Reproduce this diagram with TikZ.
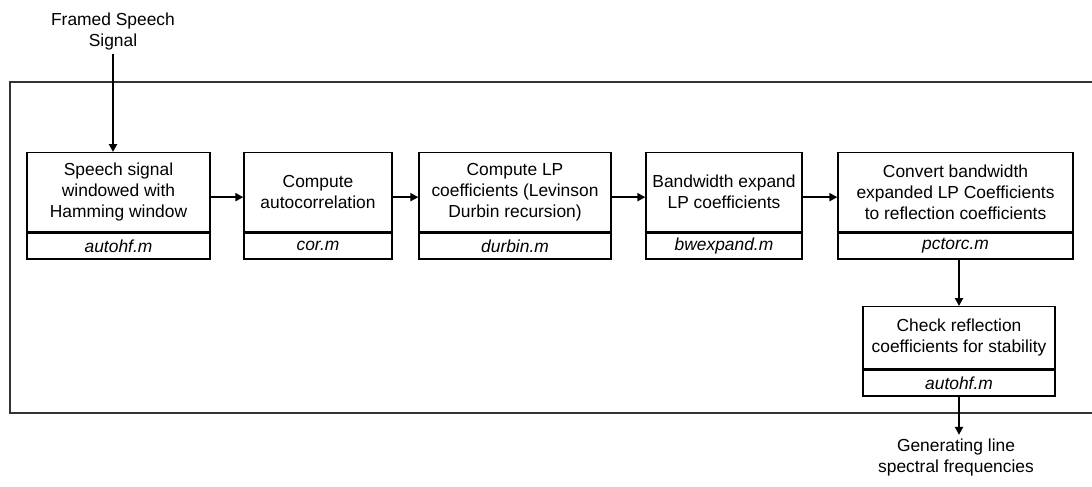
\documentclass[tikz,border=0pt]{standalone}
\usepackage{fontspec}
\setmainfont{Liberation Sans}
\usetikzlibrary{arrows.meta,positioning}

\begin{document}
\begin{tikzpicture}[x=1pt, y=-1pt,
  stage/.style={draw, line width=1.3pt, anchor=north, inner sep=0pt,
                align=center, font=\fontsize{17.4}{21}\selectfont},
  file/.style={draw, line width=1.3pt, inner sep=0pt, minimum height=26pt,
               font=\fontsize{17.4}{21}\selectfont\itshape},
  lbl/.style={align=center, font=\fontsize{17.4}{21}\selectfont},
  arr/.style={-{Triangle[length=8pt,width=8pt]}, line width=2.2pt},
  frame/.style={draw=black!80, line width=1.3pt}
]
  \useasboundingbox (0,0) rectangle (1092,487);

  % outer frame, open at the right
  \draw[frame] (1092,82) -- (10,82) -- (10,413) -- (1092,413);

  \node[lbl] (in) at (113,32) {Framed Speech\\Signal};

  \node[stage, minimum width=183pt, minimum height=79pt] (top1) at (118.5,152) {Speech signal\\windowed with\\Hamming window};
  \node[file, minimum width=183pt, below=0pt of top1] (file1) {autohf.m};

  \node[stage, minimum width=148pt, minimum height=79pt] (top2) at (318,152) {Compute\\autocorrelation};
  \node[file, minimum width=148pt, below=0pt of top2] (file2) {cor.m};

  \node[stage, minimum width=192pt, minimum height=79pt] (top3) at (515,152) {Compute LP\\coefficients (Levinson\\Durbin recursion)};
  \node[file, minimum width=192pt, below=0pt of top3] (file3) {durbin.m};

  \node[stage, minimum width=156pt, minimum height=79pt] (top4) at (724,152) {Bandwidth expand\\LP coefficients};
  \node[file, minimum width=156pt, below=0pt of top4] (file4) {bwexpand.m};

  \node[stage, minimum width=235pt, minimum height=79pt] (top5) at (955.5,152) {Convert bandwidth\\expanded LP Coefficients\\to reflection coefficients};
  \node[file, minimum width=235pt, below=0pt of top5] (file5) {pctorc.m};

  \node[stage, minimum width=192pt, minimum height=62pt] (top6) at (959,306) {Check reflection\\coefficients for stability};
  \node[file, minimum width=192pt, below=0pt of top6] (file6) {autohf.m};

  \node[lbl] (out) at (956,457) {Generating line\\spectral frequencies};

  \draw[arr] (in.south) -- (in.south |- top1.north);
  \draw[arr] ([yshift=-5pt]top1.east) -- ([yshift=-5pt]top2.west);
  \draw[arr] ([yshift=-5pt]top2.east) -- ([yshift=-5pt]top3.west);
  \draw[arr] ([yshift=-5pt]top3.east) -- ([yshift=-5pt]top4.west);
  \draw[arr] ([yshift=-5pt]top4.east) -- ([yshift=-5pt]top5.west);
  \draw[arr] (file5.south -| top6.north) -- (top6.north);
  \draw[arr] (file6.south) -- (file6.south |- out.north);
\end{tikzpicture}
\end{document}
